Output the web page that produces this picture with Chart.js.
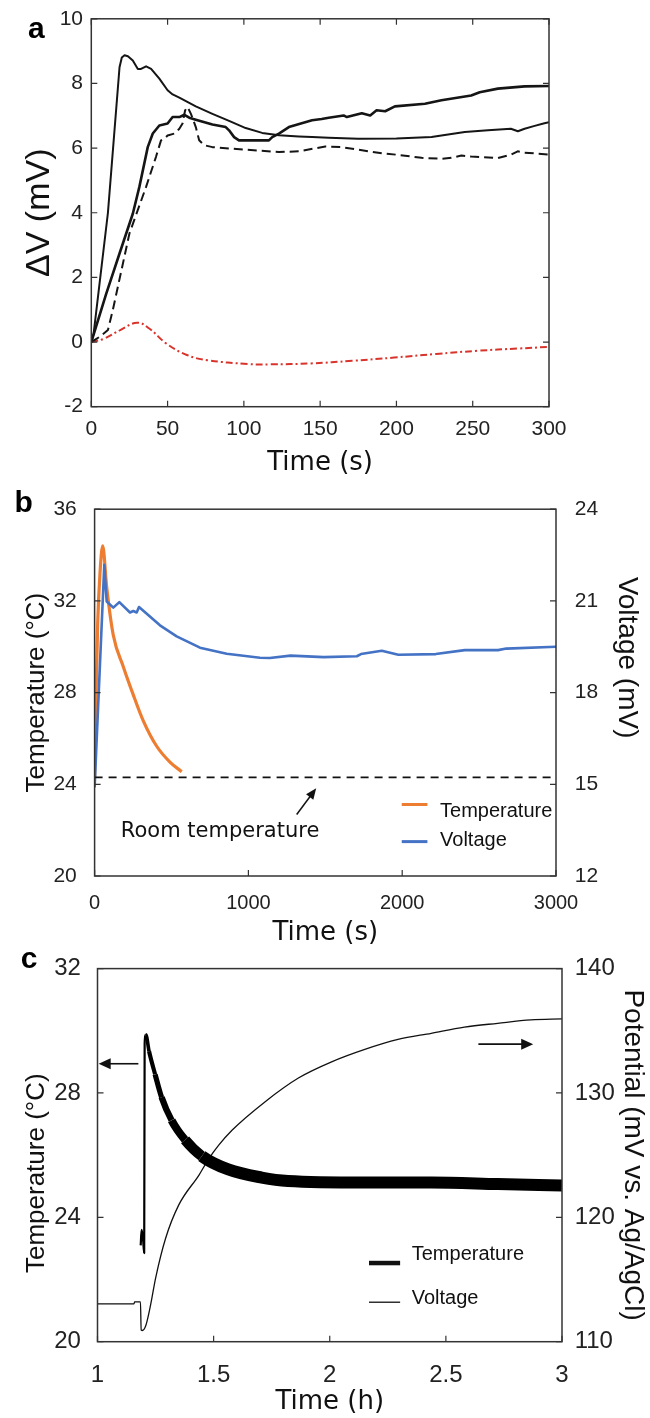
<!DOCTYPE html>
<html>
<head>
<meta charset="utf-8">
<script src="https://cdn.jsdelivr.net/npm/chart.js@4.4.0/dist/chart.umd.min.js"></script>
<style>
  body { margin: 0; background: #fff; width: 650px; height: 1418px; position: relative; overflow: hidden; }
  canvas { position: absolute; left: 0; }
</style>
</head>
<body>
<canvas id="chartA" width="650" height="482" style="top:0px"></canvas>
<canvas id="chartB" width="650" height="480" style="top:480px"></canvas>
<canvas id="chartC" width="650" height="478" style="top:940px"></canvas>
<script>
// ---- panel a : dV vs time ----
const aTime1 = [0, 1.5, 10.9, 18.5, 20, 21.8, 24, 27.2, 30.5, 32.6, 35.9, 39.2, 44.6, 50, 53.3, 57.7, 68.5, 79.4, 90.3, 101.2, 112, 123, 136, 144.7, 155.6, 175, 200, 223, 229.5, 244.8, 260, 275, 279.6, 284, 290, 297, 300];
const aDv1 = [0, 0.25, 4.0, 8.5, 8.8, 8.87, 8.84, 8.71, 8.45, 8.45, 8.53, 8.45, 8.15, 7.79, 7.66, 7.56, 7.29, 7.06, 6.84, 6.62, 6.47, 6.40, 6.36, 6.34, 6.32, 6.29, 6.30, 6.34, 6.39, 6.50, 6.55, 6.60, 6.52, 6.60, 6.68, 6.77, 6.80];

const aTime2 = [0, 9.8, 18.5, 27.2, 31.5, 37, 40.3, 44.6, 50, 53.3, 57.7, 61, 64.2, 68.5, 79.4, 88.1, 90.3, 93.6, 96.8, 116.4, 118.6, 123, 129.5, 144.7, 151, 155.6, 165.4, 167.5, 177.3, 182.8, 187, 192.6, 199, 218.7, 229.5, 249, 254.6, 266.5, 284, 300];
const aDv2 = [0, 1.5, 2.74, 3.97, 4.8, 6.03, 6.45, 6.7, 6.76, 6.96, 6.96, 7.03, 6.94, 6.88, 6.73, 6.65, 6.55, 6.34, 6.24, 6.24, 6.34, 6.45, 6.65, 6.86, 6.9, 6.94, 7.01, 6.96, 7.08, 7.01, 7.17, 7.14, 7.29, 7.37, 7.48, 7.63, 7.73, 7.84, 7.91, 7.92];

const aTime3 = [0, 5.4, 10.9, 14.1, 25, 35.9, 42.4, 45.7, 47.9, 50, 54.4, 57.7, 59.8, 61.5, 63.1, 65.3, 68.5, 70.7, 74, 79.4, 101.2, 123, 136, 153.4, 164.3, 175, 190.4, 201.3, 216.5, 229.6, 236, 242.6, 249, 266.5, 275.2, 279.5, 283.9, 300];
const aDv3 = [0, 0.16, 0.37, 0.99, 3.36, 4.8, 5.73, 6.24, 6.29, 6.39, 6.45, 6.6, 6.76, 7.17, 7.27, 7.06, 6.65, 6.24, 6.09, 6.03, 5.95, 5.88, 5.9, 6.05, 6.03, 5.95, 5.84, 5.79, 5.7, 5.67, 5.7, 5.77, 5.74, 5.69, 5.8, 5.9, 5.86, 5.8];

const aTime4 = [0, 8.2, 19, 30, 38, 49, 62.6, 76, 103, 117, 144, 171, 198.5, 226, 253, 280, 300];
const aDv4 = [0, 0.1, 0.37, 0.6, 0.42, -0.04, -0.4, -0.56, -0.68, -0.69, -0.66, -0.58, -0.48, -0.37, -0.27, -0.2, -0.15];

// ---- panel b : temperature + voltage, seconds ----
const bTimeT = [0, 8, 20, 35, 52.7, 78.6, 121.6, 186.6, 251.6, 316.6, 403.8, 490, 566];
const bTemp = [24.3, 27.5, 31.0, 33.2, 34.4, 32.6, 30.5, 29.13, 27.9, 26.77, 25.66, 24.97, 24.55];
const bTimeV = [0, 63, 78.6, 121.6, 160.7, 230, 251.6, 273.6, 288.7, 425, 533.6, 685, 859, 1075, 1139, 1274, 1489, 1705, 1732, 1867, 1975, 2218, 2407, 2623, 2677, 3000];
const bVolt = [14.9, 22.18, 20.98, 20.78, 20.96, 20.62, 20.67, 20.62, 20.8, 20.2, 19.84, 19.47, 19.27, 19.14, 19.13, 19.21, 19.16, 19.19, 19.26, 19.37, 19.24, 19.26, 19.39, 19.39, 19.44, 19.5];
const bRoomTime = [0, 3000];
const bRoomTemp = [24.3, 24.3];

// ---- panel c : temperature + potential, hours ----
const cTimeT = [1.186, 1.19, 1.196, 1.201, 1.203, 1.208, 1.222, 1.248, 1.276, 1.319, 1.377, 1.449, 1.563, 1.707, 1.82, 2.151, 2.437, 2.723, 3.0];
const cTemp = [23.1, 23.6, 23.3, 22.85, 29.6, 29.87, 29.34, 28.6, 27.86, 27.12, 26.49, 25.97, 25.54, 25.28, 25.17, 25.12, 25.12, 25.07, 25.02];
const cTimeV = [1.0, 1.157, 1.16, 1.185, 1.188, 1.193, 1.208, 1.229, 1.25, 1.293, 1.35, 1.437, 1.479, 1.522, 1.579, 1.722, 1.865, 2.008, 2.151, 2.294, 2.437, 2.58, 2.723, 2.866, 3.0];
const cVolt = [113.04, 113.04, 113.2, 113.2, 110.93, 110.9, 111.3, 113.0, 115.1, 118.3, 121.0, 123.4, 124.7, 125.8, 127.0, 129.3, 131.2, 132.5, 133.5, 134.3, 134.8, 135.3, 135.6, 135.87, 135.95];

const ARIAL = "'Liberation Sans', Arial, sans-serif";
const WIDE = "'DejaVu Sans', Verdana, sans-serif";
const NB = '\u00a0';

const pts = (xs, ys) => xs.map((x, i) => ({ x: x, y: ys[i] }));

// frame round the plot + short ticks pointing inwards
function frame(sides) {
  return {
    id: 'frame',
    afterDatasetsDraw(chart) {
      const { ctx, chartArea: a, scales } = chart;
      const L = 6;
      ctx.save();
      ctx.strokeStyle = '#333';
      ctx.lineWidth = 1.5;
      ctx.strokeRect(a.left, a.top, a.right - a.left, a.bottom - a.top);
      ctx.lineWidth = 1.2;
      ctx.beginPath();
      scales.x.ticks.forEach(t => {
        const p = scales.x.getPixelForValue(t.value);
        ctx.moveTo(p, a.bottom); ctx.lineTo(p, a.bottom - L);
        if (sides.top) { ctx.moveTo(p, a.top); ctx.lineTo(p, a.top + L); }
      });
      scales.y.ticks.forEach(t => {
        const p = scales.y.getPixelForValue(t.value);
        ctx.moveTo(a.left, p); ctx.lineTo(a.left + L, p);
        if (sides.right) { ctx.moveTo(a.right, p); ctx.lineTo(a.right - L, p); }
      });
      if (scales.y2) {
        scales.y2.ticks.forEach(t => {
          const p = scales.y2.getPixelForValue(t.value);
          ctx.moveTo(a.right, p); ctx.lineTo(a.right - L, p);
        });
      }
      ctx.stroke();
      ctx.restore();
    }
  };
}

function arrow(ctx, x1, y1, x2, y2, len, half) {
  const ang = Math.atan2(y2 - y1, x2 - x1);
  ctx.beginPath();
  ctx.moveTo(x1, y1);
  ctx.lineTo(x2 - Math.cos(ang) * len * 0.8, y2 - Math.sin(ang) * len * 0.8);
  ctx.stroke();
  ctx.beginPath();
  ctx.moveTo(x2, y2);
  ctx.lineTo(x2 - Math.cos(ang) * len + Math.sin(ang) * half, y2 - Math.sin(ang) * len - Math.cos(ang) * half);
  ctx.lineTo(x2 - Math.cos(ang) * len - Math.sin(ang) * half, y2 - Math.sin(ang) * len + Math.cos(ang) * half);
  ctx.closePath();
  ctx.fill();
}

function letter(txt, x, y) {
  return {
    id: 'letter',
    afterDraw(chart) {
      const ctx = chart.ctx;
      ctx.save();
      ctx.fillStyle = '#000';
      ctx.font = 'bold 30px ' + ARIAL;
      ctx.textAlign = 'left';
      ctx.textBaseline = 'alphabetic';
      ctx.fillText(txt, x, y);
      ctx.restore();
    }
  };
}

function tickFont(size) {
  return { family: ARIAL, size: size, lineHeight: 1 };
}
const plain = v => String(v);

const base = {
  responsive: false,
  animation: false,
  devicePixelRatio: 1,
  elements: { point: { radius: 0 }, line: { tension: 0, borderJoinStyle: 'round' } },
  plugins: { legend: { display: false }, tooltip: { enabled: false } }
};

// ================= a =================
new Chart(document.getElementById('chartA'), {
  type: 'line',
  data: {
    datasets: [
      { data: pts(aTime1, aDv1), borderColor: '#151515', borderWidth: 2 },
      { data: pts(aTime2, aDv2), borderColor: '#151515', borderWidth: 2.6 },
      { data: pts(aTime3, aDv3), borderColor: '#151515', borderWidth: 2, borderDash: [9, 5] },
      { data: pts(aTime4, aDv4), borderColor: '#d8342c', borderWidth: 2, borderDash: [7, 3, 2, 3], tension: 0.4 }
    ]
  },
  options: Object.assign({}, base, {
    layout: { padding: { top: 18.3, right: 101, left: 0, bottom: 0 } },
    scales: {
      x: {
        type: 'linear', min: 0, max: 300,
        ticks: { stepSize: 50, padding: 11.8, font: tickFont(21), color: '#222', callback: plain },
        grid: { display: false, drawTicks: false }, border: { display: false },
        title: { display: true, text: 'Time (s)', font: { family: WIDE, size: 26 }, color: '#111', padding: { top: 0, bottom: 2.8 } },
        afterFit: s => { s.height = 75.3; }
      },
      y: {
        min: -2, max: 10,
        ticks: { stepSize: 2, padding: 8.3, font: tickFont(21), color: '#222', callback: plain },
        grid: { display: false, drawTicks: false }, border: { display: false },
        title: { display: true, text: 'ΔV (mV)', font: { family: ARIAL, size: 34 }, color: '#111', padding: { top: 19, bottom: 0 } },
        afterFit: s => { s.width = 91.3; }
      }
    }
  }),
  plugins: [frame({ top: true, right: true }), letter('a', 28, 38)]
});

// ================= b =================
const bDecor = {
  id: 'bDecor',
  afterDatasetsDraw(chart) {
    const { ctx, scales: { x, y } } = chart;
    ctx.save();
    ctx.strokeStyle = '#111';
    ctx.fillStyle = '#111';
    ctx.lineWidth = 1.5;
    arrow(ctx, x.getPixelForValue(1314), y.getPixelForValue(22.68), x.getPixelForValue(1441), y.getPixelForValue(23.83), 11, 4.5);
    ctx.font = '21px ' + WIDE;
    ctx.textAlign = 'center';
    ctx.textBaseline = 'middle';
    ctx.fillText('Room temperature', x.getPixelForValue(816), y.getPixelForValue(21.94));
    // legend
    const entries = [['Temperature', '#ed7d31', 23.12, 22.82], ['Voltage', '#4472c4', 21.5, 21.54]];
    ctx.font = '20px ' + ARIAL;
    ctx.textAlign = 'left';
    entries.forEach(e => {
      ctx.strokeStyle = e[1];
      ctx.lineWidth = 3;
      ctx.beginPath();
      ctx.moveTo(x.getPixelForValue(1997), y.getPixelForValue(e[2]));
      ctx.lineTo(x.getPixelForValue(2164), y.getPixelForValue(e[2]));
      ctx.stroke();
      ctx.fillStyle = '#111';
      ctx.fillText(e[0], x.getPixelForValue(2246), y.getPixelForValue(e[3]));
    });
    ctx.restore();
  }
};

new Chart(document.getElementById('chartB'), {
  type: 'line',
  data: {
    datasets: [
      { data: pts(bRoomTime, bRoomTemp), borderColor: '#111', borderWidth: 1.6, borderDash: [8, 6], yAxisID: 'y' },
      { data: pts(bTimeV, bVolt), borderColor: '#4472c4', borderWidth: 2.6, yAxisID: 'y2' },
      { data: pts(bTimeT, bTemp), borderColor: '#ed7d31', borderWidth: 3.2, yAxisID: 'y', cubicInterpolationMode: 'monotone' }
    ]
  },
  options: Object.assign({}, base, {
    layout: { padding: { top: 11.7, right: 0, left: 0, bottom: 0 } },
    scales: {
      x: {
        type: 'linear', min: 0, max: 3000,
        ticks: { stepSize: 1000, padding: 17.5, font: tickFont(20), color: '#222', callback: plain },
        grid: { display: false, drawTicks: false }, border: { display: false },
        title: { display: true, text: 'Time (s)', font: { family: WIDE, size: 26 }, color: '#111', padding: { top: 0, bottom: 10.8 } },
        afterFit: s => { s.height = 84; }
      },
      y: {
        position: 'left', min: 20, max: 36,
        ticks: { stepSize: 4, padding: 17.8, font: tickFont(21), color: '#222', callback: plain },
        grid: { display: false, drawTicks: false }, border: { display: false },
        title: { display: true, text: 'Temperature (°C)', font: { family: ARIAL, size: 26 }, color: '#111', padding: { top: 21, bottom: 0 } },
        afterFit: s => { s.width = 94.6; }
      },
      y2: {
        position: 'right', min: 12, max: 24,
        ticks: { stepSize: 3, padding: 18.7, font: tickFont(21), color: '#222', callback: plain },
        grid: { display: false, drawTicks: false }, border: { display: false },
        title: { display: true, text: 'Voltage (mV)' + NB.repeat(9), font: { family: ARIAL, size: 28 }, color: '#111', padding: { top: 6, bottom: 0 } },
        afterFit: s => { s.width = 94; }
      }
    }
  }),
  plugins: [frame({}), bDecor, letter('b', 14.5, 31.7)]
});

// ================= c =================
const cDecor = {
  id: 'cDecor',
  afterDatasetsDraw(chart) {
    const { ctx, scales: { x, y } } = chart;
    ctx.save();
    ctx.strokeStyle = '#111';
    ctx.fillStyle = '#111';
    ctx.lineWidth = 1.6;
    arrow(ctx, x.getPixelForValue(1.176), y.getPixelForValue(28.94), x.getPixelForValue(1.005), y.getPixelForValue(28.94), 12, 5.5);
    arrow(ctx, x.getPixelForValue(2.64), y.getPixelForValue(29.57), x.getPixelForValue(2.876), y.getPixelForValue(29.57), 12, 5.5);
    // legend
    const entries = [['Temperature', 4.5, 22.53, 22.8], ['Voltage', 1.3, 21.27, 21.38]];
    ctx.font = '20px ' + ARIAL;
    ctx.textAlign = 'left';
    ctx.textBaseline = 'middle';
    entries.forEach(e => {
      ctx.lineWidth = e[1];
      ctx.beginPath();
      ctx.moveTo(x.getPixelForValue(2.169), y.getPixelForValue(e[2]));
      ctx.lineTo(x.getPixelForValue(2.303), y.getPixelForValue(e[2]));
      ctx.stroke();
      ctx.fillText(e[0], x.getPixelForValue(2.353), y.getPixelForValue(e[3]));
    });
    ctx.restore();
  }
};

new Chart(document.getElementById('chartC'), {
  type: 'line',
  data: {
    datasets: [
      {
        data: pts(cTimeT, cTemp), borderColor: '#000', borderWidth: 12, yAxisID: 'y', cubicInterpolationMode: 'monotone',
        segment: {
          // the noisy trace reads as a band that widens as it settles
          borderWidth: c => {
            const xv = c.p0.parsed.x;
            if (xv < 1.205) return 2.2;
            return Math.min(12, 3.5 + (xv - 1.205) * 40);
          }
        }
      },
      { data: pts(cTimeV, cVolt), borderColor: '#111', borderWidth: 1.3, yAxisID: 'y2', cubicInterpolationMode: 'monotone' }
    ]
  },
  options: Object.assign({}, base, {
    layout: { padding: { top: 22.7, right: 0, left: 0, bottom: 0 } },
    scales: {
      x: {
        type: 'linear', min: 1, max: 3,
        ticks: { stepSize: 0.5, padding: 21.8, font: tickFont(24), color: '#222', callback: plain },
        grid: { display: false, drawTicks: false }, border: { display: false },
        title: { display: true, text: 'Time (h)', font: { family: WIDE, size: 26 }, color: '#111', padding: { top: 0, bottom: 0 } },
        afterFit: s => { s.height = 76.3; }
      },
      y: {
        position: 'left', min: 20, max: 32,
        ticks: { stepSize: 4, padding: 16.6, font: tickFont(24), color: '#222', callback: plain },
        grid: { display: false, drawTicks: false }, border: { display: false },
        title: { display: true, text: 'Temperature (°C)' + NB.repeat(5), font: { family: ARIAL, size: 26 }, color: '#111', padding: { top: 21, bottom: 0 } },
        afterFit: s => { s.width = 97.5; }
      },
      y2: {
        position: 'right', min: 110, max: 140,
        ticks: { stepSize: 10, padding: 12.7, font: tickFont(24), color: '#222', callback: plain },
        grid: { display: false, drawTicks: false }, border: { display: false },
        title: { display: true, text: 'Potential (mV vs. Ag/AgCl)', font: { family: ARIAL, size: 28 }, color: '#111', padding: { top: 0, bottom: 0 } },
        afterFit: s => { s.width = 88; }
      }
    }
  }),
  plugins: [frame({}), cDecor, letter('c', 20.7, 28)]
});
</script>
</body>
</html>
